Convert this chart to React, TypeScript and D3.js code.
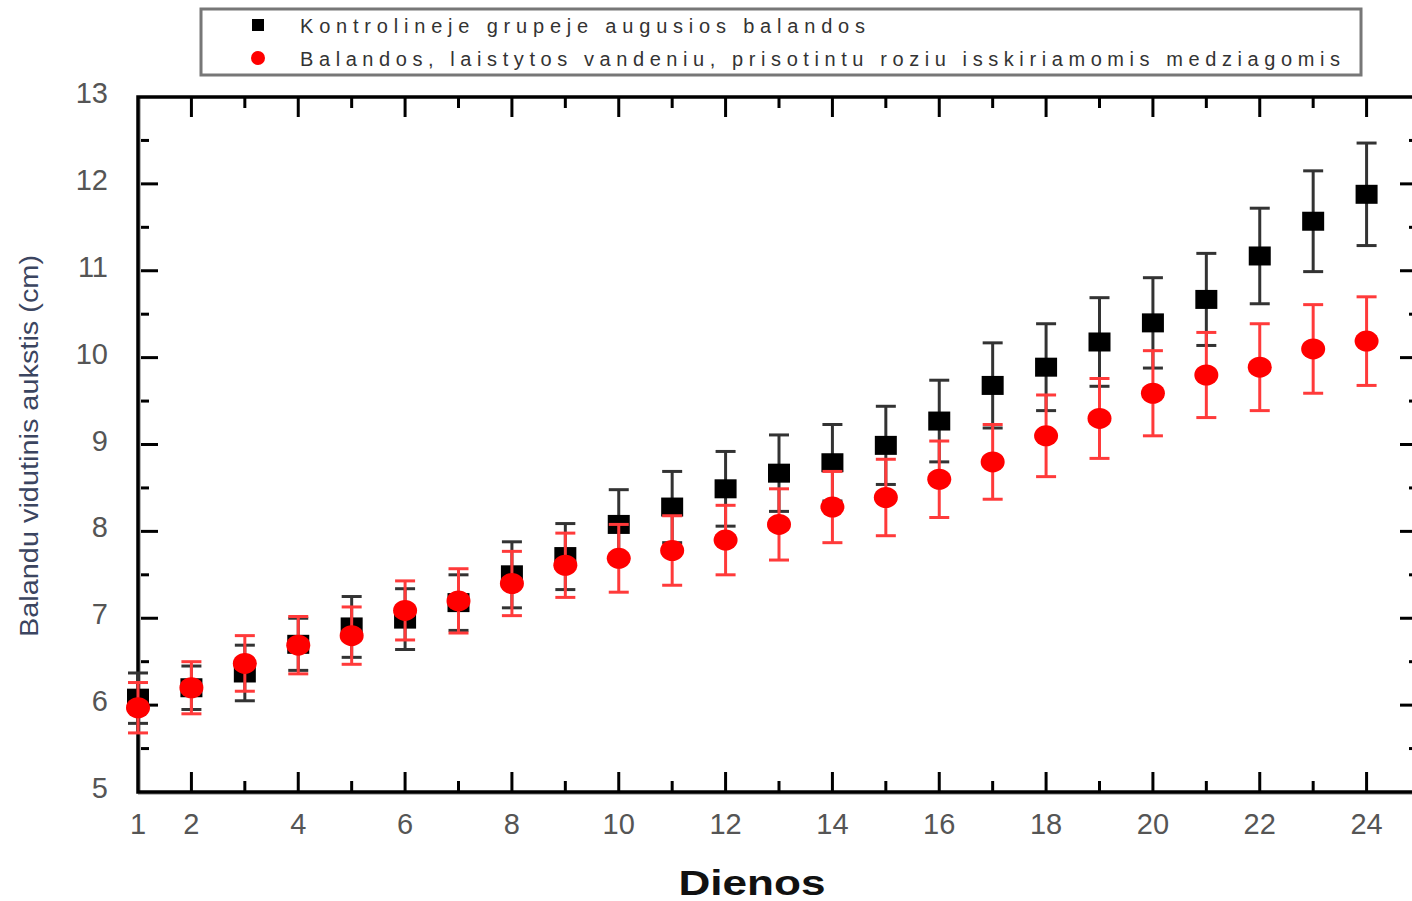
import React from "react";
import * as d3 from "d3";

const days = [1, 2, 3, 4, 5, 6, 7, 8, 9, 10, 11, 12, 13, 14, 15, 16, 17, 18, 19, 20, 21, 22, 23, 24];
const controlMean = [6.08, 6.2, 6.37, 6.7, 6.9, 6.99, 7.18, 7.5, 7.71, 8.08, 8.28, 8.49, 8.67, 8.79, 8.99, 9.27, 9.68, 9.89, 10.18, 10.4, 10.67, 11.17, 11.57, 11.88];
const controlErr = [0.29, 0.25, 0.32, 0.3, 0.35, 0.35, 0.32, 0.38, 0.38, 0.4, 0.41, 0.43, 0.44, 0.44, 0.45, 0.47, 0.49, 0.5, 0.51, 0.52, 0.53, 0.55, 0.58, 0.59];
const roseMean = [5.97, 6.2, 6.48, 6.69, 6.8, 7.09, 7.2, 7.4, 7.61, 7.69, 7.78, 7.9, 8.08, 8.28, 8.39, 8.6, 8.8, 9.1, 9.3, 9.59, 9.8, 9.89, 10.1, 10.19];
const roseErr = [0.29, 0.3, 0.32, 0.33, 0.33, 0.34, 0.37, 0.37, 0.37, 0.39, 0.4, 0.4, 0.41, 0.41, 0.44, 0.44, 0.43, 0.47, 0.46, 0.49, 0.49, 0.5, 0.51, 0.51];

const xTickLabels = [1, 2, 4, 6, 8, 10, 12, 14, 16, 18, 20, 22, 24];
const yTickLabels = [5, 6, 7, 8, 9, 10, 11, 12, 13];
const legendLabels = [
  "Kontrolineje grupeje augusios balandos",
  "Balandos, laistytos vandeniu, prisotintu roziu isskiriamomis medziagomis",
];
const xTitle = "Dienos";
const yTitle = "Balandu vidutinis aukstis (cm)";

const W = 1412;
const H = 901;
const L = 138, R = 1420, T = 97, B = 792;

export default function App() {
  const x = d3.scaleLinear().domain([1, 25]).range([L, R]);
  const y = d3.scaleLinear().domain([5, 13]).range([B, T]);

  const xMajor = d3.range(2, 25, 2);
  const xMinor = d3.range(3, 25, 2);
  const yMajor = d3.range(6, 13, 1);
  const yMinor = d3.range(5.5, 13, 1);

  const font = "'Liberation Sans', Arial, sans-serif";
  const tickCol = "#000";
  const majLen = 20, minLen = 11, tw = 3;

  const errBars = (means: number[], errs: number[], color: string, key: string) =>
    days.map((d, i) => {
      const cx = x(d);
      const y1 = y(means[i] + errs[i]);
      const y2 = y(means[i] - errs[i]);
      return (
        <g key={key + i} stroke={color} strokeWidth={3}>
          <line x1={cx} x2={cx} y1={y1} y2={y2} />
          <line x1={cx - 10} x2={cx + 10} y1={y1} y2={y1} />
          <line x1={cx - 10} x2={cx + 10} y1={y2} y2={y2} />
        </g>
      );
    });

  return (
    <svg width={W} height={H} style={{ position: "absolute", left: 0, top: 0, display: "block", background: "#fff" }}>
      <rect x={0} y={0} width={W} height={H} fill="#fff" />
      {/* legend */}
      <rect x={201} y={9} width={1160} height={66} fill="#fff" stroke="#777" strokeWidth={3} />
      <rect x={252} y={19} width={12} height={12} fill="#000" />
      <circle cx={258} cy={58} r={7} fill="#ff0000" />
      <text x={300} y={33} fontFamily={font} fontSize={20} fill="#333" textLength={565} lengthAdjust="spacing">{legendLabels[0]}</text>
      <text x={300} y={66} fontFamily={font} fontSize={20} fill="#333" textLength={1040} lengthAdjust="spacing">{legendLabels[1]}</text>

      {/* ticks */}
      <g stroke={tickCol} strokeWidth={tw}>
        {xMajor.map((v) => (
          <g key={"xM" + v}>
            <line x1={x(v)} x2={x(v)} y1={B} y2={B - majLen} />
            <line x1={x(v)} x2={x(v)} y1={T} y2={T + majLen} />
          </g>
        ))}
        {xMinor.map((v) => (
          <g key={"xm" + v}>
            <line x1={x(v)} x2={x(v)} y1={B} y2={B - minLen} />
            <line x1={x(v)} x2={x(v)} y1={T} y2={T + minLen} />
          </g>
        ))}
        {yMajor.map((v) => (
          <g key={"yM" + v}>
            <line x1={L} x2={L + majLen} y1={y(v)} y2={y(v)} />
            <line x1={R} x2={R - majLen} y1={y(v)} y2={y(v)} />
          </g>
        ))}
        {yMinor.map((v) => (
          <g key={"ym" + v}>
            <line x1={L} x2={L + minLen} y1={y(v)} y2={y(v)} />
            <line x1={R} x2={R - minLen} y1={y(v)} y2={y(v)} />
          </g>
        ))}
      </g>

      {/* axes frame */}
      <line x1={L + 2} x2={L + 2} y1={T} y2={B} stroke="#bbb" strokeWidth={2} />
      <line x1={L} x2={R} y1={B + 2} y2={B + 2} stroke="#bbb" strokeWidth={2} />
      <rect x={L} y={T} width={R - L} height={B - T} fill="none" stroke="#000" strokeWidth={3.5} />

      {/* tick labels */}
      {yTickLabels.map((v) => (
        <text key={"yl" + v} x={108} y={y(v) + 6} textAnchor="end" fontFamily={font} fontSize={29} fill="#555">{v}</text>
      ))}
      {xTickLabels.map((v) => (
        <text key={"xl" + v} x={x(v)} y={834} textAnchor="middle" fontFamily={font} fontSize={29} fill="#555">{v}</text>
      ))}

      {/* titles */}
      <text x={752} y={895} textAnchor="middle" fontFamily={font} fontSize={35} fontWeight="bold" fill="#111" textLength={147} lengthAdjust="spacingAndGlyphs">{xTitle}</text>
      <text transform={`translate(38,446) rotate(-90)`} textAnchor="middle" fontFamily={font} fontSize={26} fill="#3b4560" textLength={382} lengthAdjust="spacingAndGlyphs">{yTitle}</text>

      {/* control series */}
      {errBars(controlMean, controlErr, "#333", "ce")}
      {days.map((d, i) => (
        <rect key={"cs" + i} x={x(d) - 11} y={y(controlMean[i]) - 9.5} width={22} height={19} fill="#000" />
      ))}

      {/* rose series */}
      {errBars(roseMean, roseErr, "#ff3a3a", "re")}
      {days.map((d, i) => (
        <ellipse key={"rs" + i} cx={x(d)} cy={y(roseMean[i])} rx={12} ry={10.5} fill="#ff0000" />
      ))}
    </svg>
  );
}
